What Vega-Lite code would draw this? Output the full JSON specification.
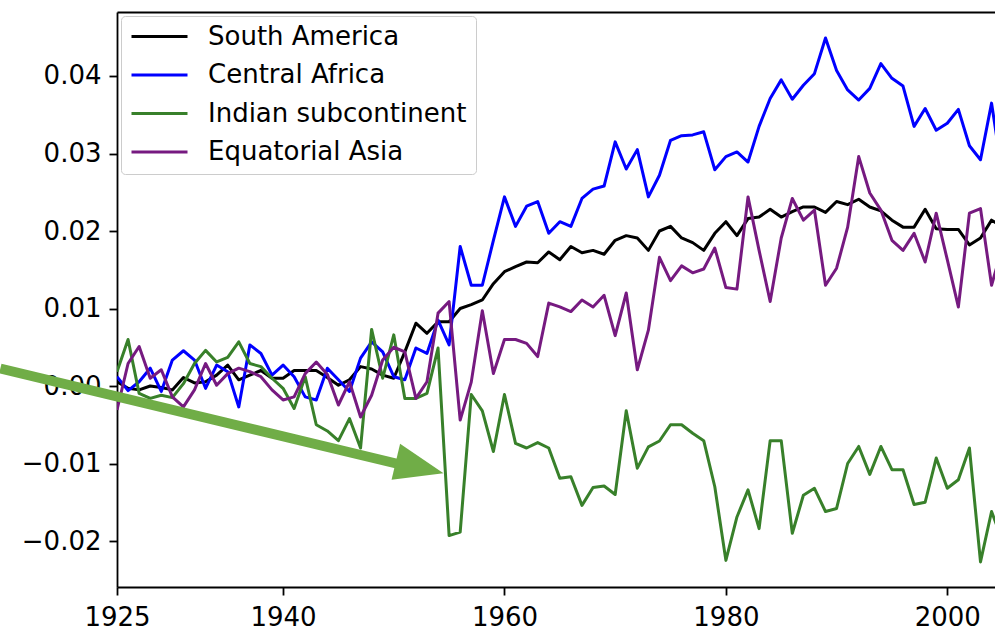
{
  "$schema": "https://vega.github.io/schema/vega-lite/v6.json",
  "width": 878,
  "height": 575,
  "autosize": {"type": "none"},
  "padding": {"left": 117, "top": 12, "right": 0, "bottom": 43},
  "background": "white",
  "config": {
    "view": {"stroke": null},
    "axis": {
      "grid": false,
      "domainColor": "#000000",
      "domainWidth": 1.8,
      "tickColor": "#000000",
      "tickWidth": 1.8,
      "tickSize": 8,
      "labelFont": "DejaVu Sans",
      "labelFontSize": 26,
      "labelColor": "#000000",
      "labelPadding": 9,
      "labelFlush": false,
      "labelOverlap": false
    }
  },
  "layer": [
    {
      "data": {
        "values": [
          {"year": 1925, "South America": 0.00055, "Central Africa": 0.0012, "Indian subcontinent": 0.00185, "Equatorial Asia": -0.0031},
          {"year": 1926, "South America": -0.0003, "Central Africa": -0.0006, "Indian subcontinent": 0.006, "Equatorial Asia": 0.0029},
          {"year": 1927, "South America": -0.0005, "Central Africa": 0.00055, "Indian subcontinent": -0.00095, "Equatorial Asia": 0.0051},
          {"year": 1928, "South America": 0.0, "Central Africa": 0.0023, "Indian subcontinent": -0.0016, "Equatorial Asia": 0.001},
          {"year": 1929, "South America": -0.0002, "Central Africa": -0.0007, "Indian subcontinent": -0.0012, "Equatorial Asia": 0.0021},
          {"year": 1930, "South America": -0.0005, "Central Africa": 0.00335, "Indian subcontinent": -0.0015, "Equatorial Asia": -0.0014},
          {"year": 1931, "South America": 0.0011, "Central Africa": 0.00455, "Indian subcontinent": 0.0003, "Equatorial Asia": -0.0027},
          {"year": 1932, "South America": 0.0004, "Central Africa": 0.00335, "Indian subcontinent": 0.0029, "Equatorial Asia": -0.0005},
          {"year": 1933, "South America": 0.00055, "Central Africa": -0.0003, "Indian subcontinent": 0.0046, "Equatorial Asia": 0.0029},
          {"year": 1934, "South America": 0.0014, "Central Africa": 0.0027, "Indian subcontinent": 0.0031, "Equatorial Asia": 0.0001},
          {"year": 1935, "South America": 0.0027, "Central Africa": 0.00185, "Indian subcontinent": 0.0037, "Equatorial Asia": 0.0016},
          {"year": 1936, "South America": 0.0008, "Central Africa": -0.0027, "Indian subcontinent": 0.0057, "Equatorial Asia": 0.0023},
          {"year": 1937, "South America": 0.0014, "Central Africa": 0.0053, "Indian subcontinent": 0.0029, "Equatorial Asia": 0.00185},
          {"year": 1938, "South America": 0.002, "Central Africa": 0.0042, "Indian subcontinent": 0.0025, "Equatorial Asia": 0.0012},
          {"year": 1939, "South America": 0.001, "Central Africa": 0.0014, "Indian subcontinent": 0.001, "Equatorial Asia": -0.0005},
          {"year": 1940, "South America": 0.001, "Central Africa": 0.0027, "Indian subcontinent": -0.0003, "Equatorial Asia": -0.0018},
          {"year": 1941, "South America": 0.002, "Central Africa": 0.0012, "Indian subcontinent": -0.0029, "Equatorial Asia": -0.0014},
          {"year": 1942, "South America": 0.002, "Central Africa": -0.0014, "Indian subcontinent": 0.0012, "Equatorial Asia": 0.0016},
          {"year": 1943, "South America": 0.002, "Central Africa": -0.0018, "Indian subcontinent": -0.005, "Equatorial Asia": 0.0031},
          {"year": 1944, "South America": 0.0011, "Central Africa": 0.0023, "Indian subcontinent": -0.0058, "Equatorial Asia": 0.0015},
          {"year": 1945, "South America": 0.0001, "Central Africa": 0.0008, "Indian subcontinent": -0.00705, "Equatorial Asia": -0.00245},
          {"year": 1946, "South America": 0.0008, "Central Africa": -0.0007, "Indian subcontinent": -0.0042, "Equatorial Asia": 0.00055},
          {"year": 1947, "South America": 0.0025, "Central Africa": 0.0036, "Indian subcontinent": -0.008, "Equatorial Asia": -0.004},
          {"year": 1948, "South America": 0.0022, "Central Africa": 0.0057, "Indian subcontinent": 0.0073, "Equatorial Asia": -0.0012},
          {"year": 1949, "South America": 0.0014, "Central Africa": 0.0044, "Indian subcontinent": 0.001, "Equatorial Asia": 0.00335},
          {"year": 1950, "South America": 0.001, "Central Africa": 0.0012, "Indian subcontinent": 0.0066, "Equatorial Asia": 0.005},
          {"year": 1951, "South America": 0.0044, "Central Africa": 0.0008, "Indian subcontinent": -0.0016, "Equatorial Asia": 0.0044},
          {"year": 1952, "South America": 0.0081, "Central Africa": 0.0049, "Indian subcontinent": -0.0016, "Equatorial Asia": -0.0016},
          {"year": 1953, "South America": 0.0068, "Central Africa": 0.0042, "Indian subcontinent": -0.00095, "Equatorial Asia": 0.00055},
          {"year": 1954, "South America": 0.0083, "Central Africa": 0.0085, "Indian subcontinent": 0.0049, "Equatorial Asia": 0.0094},
          {"year": 1955, "South America": 0.0083, "Central Africa": 0.0053, "Indian subcontinent": -0.0193, "Equatorial Asia": 0.0109},
          {"year": 1956, "South America": 0.01, "Central Africa": 0.018, "Indian subcontinent": -0.01885, "Equatorial Asia": -0.0044},
          {"year": 1957, "South America": 0.0105, "Central Africa": 0.013, "Indian subcontinent": -0.0011, "Equatorial Asia": 0.0005},
          {"year": 1958, "South America": 0.0111, "Central Africa": 0.013, "Indian subcontinent": -0.0032, "Equatorial Asia": 0.0097},
          {"year": 1959, "South America": 0.0132, "Central Africa": 0.0188, "Indian subcontinent": -0.00845, "Equatorial Asia": 0.0016},
          {"year": 1960, "South America": 0.01475, "Central Africa": 0.0244, "Indian subcontinent": -0.0011, "Equatorial Asia": 0.006},
          {"year": 1961, "South America": 0.0154, "Central Africa": 0.0206, "Indian subcontinent": -0.0074, "Equatorial Asia": 0.006},
          {"year": 1962, "South America": 0.016, "Central Africa": 0.0232, "Indian subcontinent": -0.008, "Equatorial Asia": 0.0055},
          {"year": 1963, "South America": 0.0159, "Central Africa": 0.0238, "Indian subcontinent": -0.0073, "Equatorial Asia": 0.0038},
          {"year": 1964, "South America": 0.0173, "Central Africa": 0.0197, "Indian subcontinent": -0.008, "Equatorial Asia": 0.0107},
          {"year": 1965, "South America": 0.0163, "Central Africa": 0.0212, "Indian subcontinent": -0.0119, "Equatorial Asia": 0.0102},
          {"year": 1966, "South America": 0.018, "Central Africa": 0.0206, "Indian subcontinent": -0.0117, "Equatorial Asia": 0.0096},
          {"year": 1967, "South America": 0.0172, "Central Africa": 0.0242, "Indian subcontinent": -0.0154, "Equatorial Asia": 0.0111},
          {"year": 1968, "South America": 0.0175, "Central Africa": 0.0254, "Indian subcontinent": -0.0131, "Equatorial Asia": 0.0102},
          {"year": 1969, "South America": 0.017, "Central Africa": 0.0258, "Indian subcontinent": -0.0129, "Equatorial Asia": 0.0117},
          {"year": 1970, "South America": 0.0188, "Central Africa": 0.0315, "Indian subcontinent": -0.014, "Equatorial Asia": 0.0065},
          {"year": 1971, "South America": 0.0194, "Central Africa": 0.028, "Indian subcontinent": -0.0032, "Equatorial Asia": 0.012},
          {"year": 1972, "South America": 0.0191, "Central Africa": 0.0305, "Indian subcontinent": -0.0106, "Equatorial Asia": 0.0021},
          {"year": 1973, "South America": 0.0175, "Central Africa": 0.0244, "Indian subcontinent": -0.00785, "Equatorial Asia": 0.0072},
          {"year": 1974, "South America": 0.02, "Central Africa": 0.0272, "Indian subcontinent": -0.0071, "Equatorial Asia": 0.0166},
          {"year": 1975, "South America": 0.0206, "Central Africa": 0.0317, "Indian subcontinent": -0.005, "Equatorial Asia": 0.0136},
          {"year": 1976, "South America": 0.0191, "Central Africa": 0.0323, "Indian subcontinent": -0.005, "Equatorial Asia": 0.0155},
          {"year": 1977, "South America": 0.0185, "Central Africa": 0.0324, "Indian subcontinent": -0.0061, "Equatorial Asia": 0.0146},
          {"year": 1978, "South America": 0.0175, "Central Africa": 0.0328, "Indian subcontinent": -0.00705, "Equatorial Asia": 0.0151},
          {"year": 1979, "South America": 0.0197, "Central Africa": 0.0279, "Indian subcontinent": -0.013, "Equatorial Asia": 0.0178},
          {"year": 1980, "South America": 0.0212, "Central Africa": 0.0296, "Indian subcontinent": -0.0225, "Equatorial Asia": 0.0127},
          {"year": 1981, "South America": 0.0194, "Central Africa": 0.0302, "Indian subcontinent": -0.0169, "Equatorial Asia": 0.0125},
          {"year": 1982, "South America": 0.0216, "Central Africa": 0.0289, "Indian subcontinent": -0.0134, "Equatorial Asia": 0.0244},
          {"year": 1983, "South America": 0.0218, "Central Africa": 0.0335, "Indian subcontinent": -0.0184, "Equatorial Asia": 0.0175},
          {"year": 1984, "South America": 0.0228, "Central Africa": 0.0371, "Indian subcontinent": -0.00705, "Equatorial Asia": 0.0109},
          {"year": 1985, "South America": 0.0218, "Central Africa": 0.0395, "Indian subcontinent": -0.00705, "Equatorial Asia": 0.0191},
          {"year": 1986, "South America": 0.0225, "Central Africa": 0.037, "Indian subcontinent": -0.019, "Equatorial Asia": 0.0242},
          {"year": 1987, "South America": 0.0231, "Central Africa": 0.0388, "Indian subcontinent": -0.0141, "Equatorial Asia": 0.0214},
          {"year": 1988, "South America": 0.0231, "Central Africa": 0.0403, "Indian subcontinent": -0.0132, "Equatorial Asia": 0.0227},
          {"year": 1989, "South America": 0.0224, "Central Africa": 0.0449, "Indian subcontinent": -0.0162, "Equatorial Asia": 0.013},
          {"year": 1990, "South America": 0.0238, "Central Africa": 0.0407, "Indian subcontinent": -0.0158, "Equatorial Asia": 0.0152},
          {"year": 1991, "South America": 0.0234, "Central Africa": 0.0382, "Indian subcontinent": -0.01, "Equatorial Asia": 0.0205},
          {"year": 1992, "South America": 0.0241, "Central Africa": 0.0369, "Indian subcontinent": -0.0078, "Equatorial Asia": 0.0296},
          {"year": 1993, "South America": 0.0231, "Central Africa": 0.0384, "Indian subcontinent": -0.0114, "Equatorial Asia": 0.0249},
          {"year": 1994, "South America": 0.0226, "Central Africa": 0.0416, "Indian subcontinent": -0.0078, "Equatorial Asia": 0.0227},
          {"year": 1995, "South America": 0.0214, "Central Africa": 0.0397, "Indian subcontinent": -0.0108, "Equatorial Asia": 0.0188},
          {"year": 1996, "South America": 0.0205, "Central Africa": 0.0387, "Indian subcontinent": -0.0108, "Equatorial Asia": 0.0175},
          {"year": 1997, "South America": 0.0205, "Central Africa": 0.0335, "Indian subcontinent": -0.0153, "Equatorial Asia": 0.0197},
          {"year": 1998, "South America": 0.0228, "Central Africa": 0.0358, "Indian subcontinent": -0.015, "Equatorial Asia": 0.016},
          {"year": 1999, "South America": 0.0203, "Central Africa": 0.033, "Indian subcontinent": -0.0093, "Equatorial Asia": 0.0223},
          {"year": 2000, "South America": 0.0202, "Central Africa": 0.0339, "Indian subcontinent": -0.0132, "Equatorial Asia": 0.0163},
          {"year": 2001, "South America": 0.0202, "Central Africa": 0.0357, "Indian subcontinent": -0.0121, "Equatorial Asia": 0.0102},
          {"year": 2002, "South America": 0.0182, "Central Africa": 0.031, "Indian subcontinent": -0.008, "Equatorial Asia": 0.0223},
          {"year": 2003, "South America": 0.0191, "Central Africa": 0.0292, "Indian subcontinent": -0.0227, "Equatorial Asia": 0.0229},
          {"year": 2004, "South America": 0.0214, "Central Africa": 0.0365, "Indian subcontinent": -0.0162, "Equatorial Asia": 0.013},
          {"year": 2005, "South America": 0.0205, "Central Africa": 0.027, "Indian subcontinent": -0.02, "Equatorial Asia": 0.018}
        ]
      },
      "transform": [
        {"fold": ["South America", "Central Africa", "Indian subcontinent", "Equatorial Asia"], "as": ["region", "value"]}
      ],
      "mark": {"type": "line", "clip": true, "strokeWidth": 3, "strokeJoin": "round"},
      "encoding": {
        "x": {
          "field": "year", "type": "quantitative", "title": null,
          "scale": {"domain": [1925, 2004.31], "nice": false, "zero": false},
          "axis": {"orient": "bottom", "values": [1925, 1940, 1960, 1980, 2000], "format": "d"}
        },
        "y": {
          "field": "value", "type": "quantitative", "title": null,
          "scale": {"domain": [-0.025935, 0.048258], "nice": false, "zero": false},
          "axis": {"orient": "left", "values": [-0.02, -0.01, 0, 0.01, 0.02, 0.03, 0.04], "format": ".2f", "labelPadding": 8}
        },
        "color": {
          "field": "region", "type": "nominal",
          "scale": {
            "domain": ["South America", "Central Africa", "Indian subcontinent", "Equatorial Asia"],
            "range": ["#000000", "#0000ff", "#38802a", "#761a80"]
          },
          "legend": {
            "title": null,
            "orient": "top-left",
            "offset": 4,
            "symbolType": "stroke",
            "symbolSize": 3136,
            "symbolStrokeWidth": 3,
            "labelFont": "DejaVu Sans",
            "labelFontSize": 26,
            "labelColor": "#000000",
            "labelLimit": 400,
            "labelOffset": 19,
            "padding": 9,
            "clipHeight": 23,
            "rowPadding": 11.5,
            "strokeColor": "#cccccc",
            "fillColor": "rgba(255,255,255,0.8)",
            "cornerRadius": 4
          }
        }
      }
    },
    {
      "data": {"values": [{"x_start": 1914.46, "y_start": 0.00226, "x_end": 1950.6, "y_end": -0.01013}]},
      "mark": {"type": "rule", "clip": false, "color": "#70AD47", "strokeWidth": 10, "strokeCap": "butt"},
      "encoding": {
        "x": {
          "field": "x_start", "type": "quantitative", "title": null,
          "scale": {"domain": [1925, 2004.31], "nice": false, "zero": false},
          "axis": {"orient": "top", "labels": false, "ticks": false}
        },
        "y": {
          "field": "y_start", "type": "quantitative", "title": null,
          "scale": {"domain": [-0.025935, 0.048258], "nice": false, "zero": false},
          "axis": {"orient": "left", "values": [-0.02, -0.01, 0, 0.01, 0.02, 0.03, 0.04], "format": ".2f", "labelPadding": 8}
        },
        "x2": {"field": "x_end"},
        "y2": {"field": "y_end"}
      }
    },
    {
      "data": {"values": [{"x_tip": 1952.34, "y_tip": -0.010516}]},
      "mark": {
        "type": "point", "clip": false, "filled": true, "opacity": 1,
        "color": "#70AD47", "shape": "M1,0L-1,-0.755L-1,0.755Z", "size": 2401, "angle": 13.3
      },
      "encoding": {
        "x": {
          "field": "x_tip", "type": "quantitative", "title": null,
          "scale": {"domain": [1925, 2004.31], "nice": false, "zero": false},
          "axis": null
        },
        "y": {
          "field": "y_tip", "type": "quantitative", "title": null,
          "scale": {"domain": [-0.025935, 0.048258], "nice": false, "zero": false},
          "axis": {"orient": "left", "values": [-0.02, -0.01, 0, 0.01, 0.02, 0.03, 0.04], "format": ".2f", "labelPadding": 8}
        }
      }
    }
  ],
  "resolve": {"axis": {"x": "independent"}}
}
